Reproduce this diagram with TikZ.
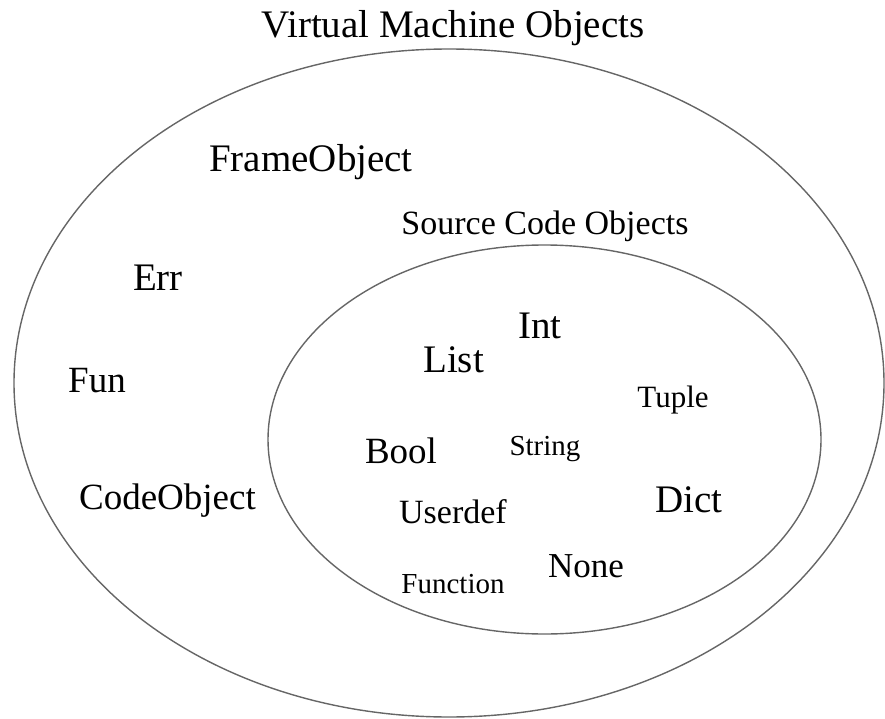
\documentclass[tikz,border=0pt]{standalone}
\usepackage{fontspec}
\setmainfont{Liberation Serif}
\begin{document}
\begin{tikzpicture}[x=1pt,y=-1pt,
  setline/.style={draw=black!60, line width=1.4pt},
  lbl/.style={anchor=base, inner sep=0pt, text=black},
  fs/.style={font=\fontsize{#1}{#1}\selectfont}]
\useasboundingbox (0,0) rectangle (885,719);
% outer set: virtual machine objects
\draw[setline] (449,383) ellipse [x radius=435, y radius=334];
% inner set: source code objects
\draw[setline] (544.5,439.5) ellipse [x radius=276.5, y radius=194.5];
% set titles
\node[lbl,fs=39] (vm) at (453,38) {Virtual Machine Objects};
\node[lbl,fs=34] (src) at (545,235) {Source Code Objects};
% outer-only members
\node[lbl,fs=39] (frame) at (311,172) {FrameObject};
\node[lbl,fs=39] (err) at (158,290) {Err};
\node[lbl,fs=37] (fun) at (97,392) {Fun};
\node[lbl,fs=37] (code) at (167.5,509) {CodeObject};
% inner members
\node[lbl,fs=39] (int) at (540,338) {Int};
\node[lbl,fs=39] (list) at (453.5,372) {List};
\node[lbl,fs=31] (tuple) at (673,407) {Tuple};
\node[lbl,fs=29] (string) at (545,455) {String};
\node[lbl,fs=37] (bool) at (401,463) {Bool};
\node[lbl,fs=39] (dict) at (689,512) {Dict};
\node[lbl,fs=34] (user) at (453,523) {Userdef};
\node[lbl,fs=35] (none) at (586,577) {None};
\node[lbl,fs=29] (func) at (453,593) {Function};
\end{tikzpicture}
\end{document}
